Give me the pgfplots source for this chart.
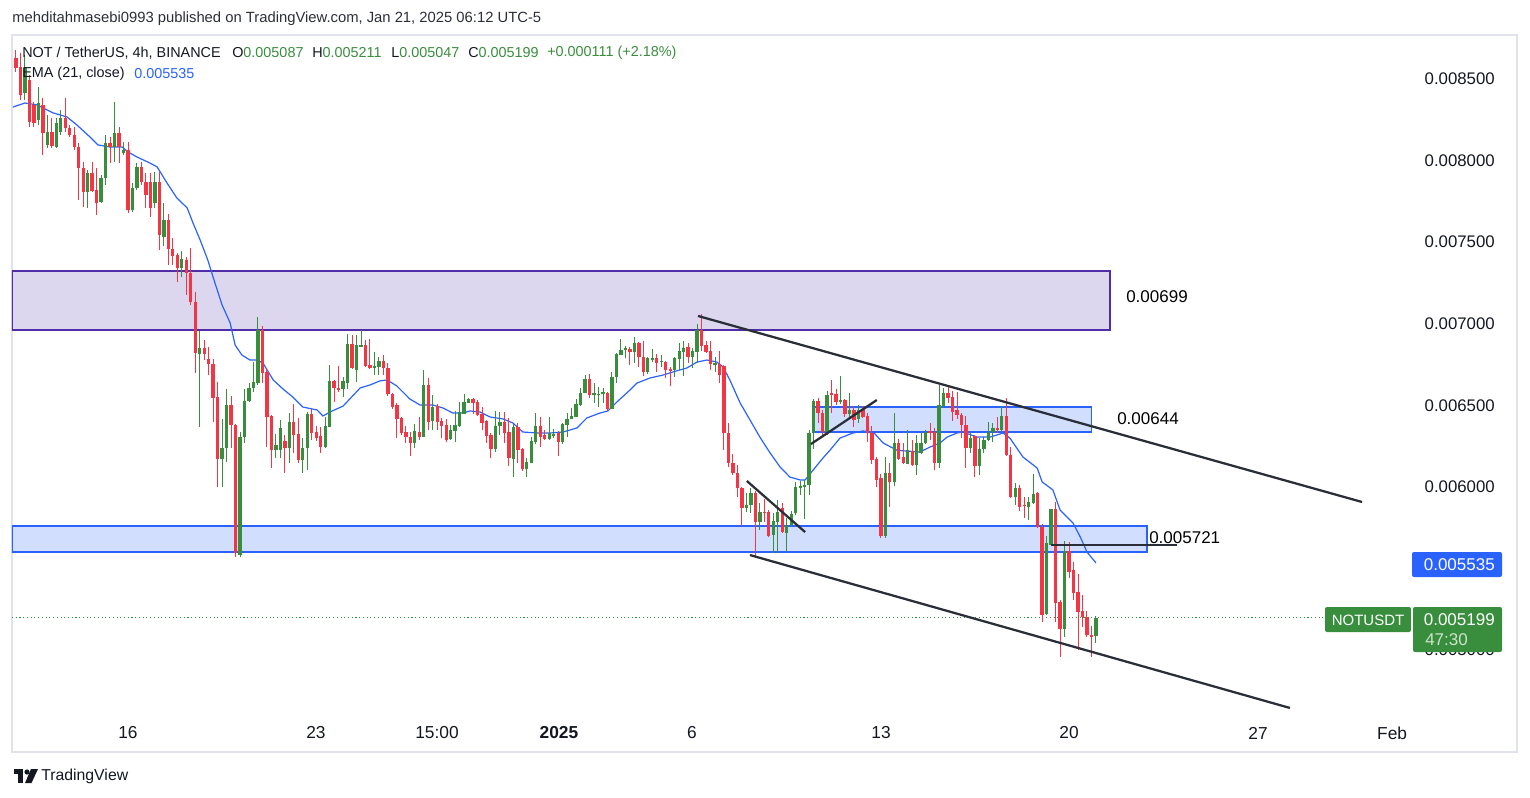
\documentclass[border=0pt]{standalone}
\usepackage{pgfplots}
\pgfplotsset{compat=1.18}
\usepackage{pgfplotstable}
\usepackage{fontspec}
\setmainfont{Liberation Sans}
\definecolor{upc}{HTML}{388E3C}
\definecolor{dnc}{HTML}{F23645}
\definecolor{emac}{HTML}{2962FF}
\definecolor{zonep}{RGB}{220,214,238}
\definecolor{zonepb}{HTML}{512DA8}
\definecolor{zoneb}{RGB}{209,222,254}
\definecolor{zonebb}{HTML}{2962FF}
\definecolor{trend}{HTML}{2A2E39}
\definecolor{framec}{HTML}{E0E3EB}
\definecolor{txt}{HTML}{131722}

% NOT/USDT 4h candles: index, open, high, low, close
\pgfplotstableread{
i o h l c
0 0.008629 0.008678 0.008543 0.008567
1 0.008573 0.008660 0.008371 0.008402
2 0.008415 0.008647 0.008371 0.008567
3 0.008494 0.008524 0.008206 0.008237
4 0.008340 0.008359 0.008206 0.008231
5 0.008249 0.008451 0.008218 0.008353
6 0.008340 0.008384 0.008034 0.008169
7 0.008095 0.008279 0.008077 0.008175
8 0.008175 0.008261 0.008077 0.008089
9 0.008083 0.008261 0.008077 0.008231
10 0.008175 0.008310 0.008156 0.008261
11 0.008261 0.008384 0.008175 0.008200
12 0.008200 0.008218 0.008144 0.008156
13 0.008156 0.008206 0.008065 0.008083
14 0.008083 0.008108 0.007759 0.007955
15 0.007955 0.007992 0.007716 0.007808
16 0.007808 0.007942 0.007710 0.007924
17 0.007924 0.007992 0.007808 0.007814
18 0.007820 0.007955 0.007666 0.007741
19 0.007747 0.007911 0.007741 0.007893
20 0.007893 0.008156 0.007850 0.008108
21 0.008108 0.008144 0.007986 0.008083
22 0.008083 0.008359 0.007992 0.008169
23 0.008169 0.008206 0.007986 0.008083
24 0.008047 0.008114 0.008034 0.008065
25 0.008065 0.008114 0.007679 0.007697
26 0.007697 0.007863 0.007685 0.007832
27 0.007832 0.007986 0.007820 0.007961
28 0.007961 0.007992 0.007850 0.007869
29 0.007869 0.007924 0.007710 0.007789
30 0.007869 0.007924 0.007654 0.007710
31 0.007741 0.007930 0.007710 0.007869
32 0.007869 0.007930 0.007452 0.007544
33 0.007532 0.007741 0.007476 0.007636
34 0.007636 0.007672 0.007360 0.007458
35 0.007458 0.007526 0.007360 0.007415
36 0.007421 0.007434 0.007256 0.007342
37 0.007342 0.007446 0.007287 0.007397
38 0.007391 0.007409 0.007176 0.007312
39 0.007312 0.007464 0.007115 0.007134
40 0.007134 0.007195 0.006699 0.006821
41 0.006814 0.006956 0.006367 0.006851
42 0.006851 0.006901 0.006778 0.006814
43 0.006784 0.006857 0.006686 0.006753
44 0.006753 0.006784 0.006398 0.006545
45 0.006551 0.006643 0.006000 0.006172
46 0.006172 0.006416 0.006000 0.006239
47 0.006239 0.006600 0.006153 0.006502
48 0.006502 0.006558 0.006239 0.006379
49 0.006379 0.006385 0.005571 0.005596
50 0.005583 0.006337 0.005571 0.006306
51 0.006306 0.006600 0.006270 0.006527
52 0.006527 0.006637 0.006521 0.006606
53 0.006606 0.006766 0.006582 0.006643
54 0.006637 0.007041 0.006624 0.006962
55 0.006962 0.006987 0.006637 0.006699
56 0.006705 0.006729 0.006245 0.006428
57 0.006434 0.006441 0.006116 0.006227
58 0.006227 0.006324 0.006177 0.006257
59 0.006227 0.006410 0.006177 0.006361
60 0.006282 0.006319 0.006086 0.006239
61 0.006239 0.006454 0.006147 0.006398
62 0.006398 0.006508 0.006209 0.006319
63 0.006325 0.006422 0.006147 0.006165
64 0.006165 0.006300 0.006086 0.006239
65 0.006239 0.006460 0.006104 0.006447
66 0.006447 0.006478 0.006288 0.006331
67 0.006337 0.006374 0.006282 0.006300
68 0.006313 0.006367 0.006209 0.006245
69 0.006245 0.006428 0.006239 0.006374
70 0.006367 0.006748 0.006367 0.006649
71 0.006649 0.006655 0.006521 0.006606
72 0.006606 0.006741 0.006582 0.006600
73 0.006600 0.006674 0.006551 0.006649
74 0.006637 0.006938 0.006600 0.006876
75 0.006876 0.006932 0.006723 0.006729
76 0.006717 0.006932 0.006643 0.006870
77 0.006864 0.006962 0.006857 0.006870
78 0.006870 0.006901 0.006735 0.006741
79 0.006747 0.006907 0.006723 0.006729
80 0.006735 0.006827 0.006686 0.006741
81 0.006735 0.006796 0.006686 0.006772
82 0.006772 0.006808 0.006686 0.006729
83 0.006729 0.006760 0.006558 0.006569
84 0.006569 0.006576 0.006478 0.006490
85 0.006502 0.006515 0.006300 0.006416
86 0.006422 0.006428 0.006319 0.006331
87 0.006337 0.006374 0.006270 0.006306
88 0.006306 0.006337 0.006190 0.006270
89 0.006270 0.006386 0.006239 0.006343
90 0.006337 0.006428 0.006288 0.006306
91 0.006306 0.006717 0.006306 0.006624
92 0.006624 0.006668 0.006349 0.006398
93 0.006404 0.006564 0.006349 0.006490
94 0.006496 0.006508 0.006349 0.006398
95 0.006404 0.006422 0.006300 0.006374
96 0.006379 0.006416 0.006276 0.006288
97 0.006294 0.006379 0.006288 0.006349
98 0.006343 0.006466 0.006276 0.006379
99 0.006374 0.006521 0.006367 0.006459
100 0.006447 0.006570 0.006447 0.006521
101 0.006515 0.006545 0.006515 0.006539
102 0.006539 0.006545 0.006447 0.006515
103 0.006521 0.006533 0.006435 0.006441
104 0.006447 0.006490 0.006349 0.006392
105 0.006404 0.006410 0.006270 0.006313
106 0.006319 0.006331 0.006177 0.006233
107 0.006233 0.006466 0.006215 0.006374
108 0.006374 0.006460 0.006319 0.006398
109 0.006398 0.006460 0.006270 0.006331
110 0.006337 0.006422 0.006128 0.006177
111 0.006172 0.006386 0.006061 0.006367
112 0.006367 0.006392 0.006147 0.006227
113 0.006233 0.006239 0.006098 0.006110
114 0.006110 0.006177 0.006061 0.006153
115 0.006147 0.006306 0.006147 0.006282
116 0.006276 0.006454 0.006264 0.006374
117 0.006374 0.006428 0.006245 0.006306
118 0.006319 0.006349 0.006288 0.006294
119 0.006294 0.006428 0.006288 0.006331
120 0.006313 0.006355 0.006300 0.006325
121 0.006331 0.006343 0.006190 0.006276
122 0.006276 0.006392 0.006264 0.006386
123 0.006379 0.006454 0.006306 0.006416
124 0.006416 0.006484 0.006416 0.006435
125 0.006428 0.006539 0.006428 0.006508
126 0.006502 0.006606 0.006496 0.006576
127 0.006576 0.006686 0.006576 0.006662
128 0.006662 0.006692 0.006545 0.006564
129 0.006570 0.006637 0.006515 0.006576
130 0.006564 0.006613 0.006490 0.006570
131 0.006570 0.006606 0.006515 0.006582
132 0.006576 0.006582 0.006466 0.006478
133 0.006478 0.006705 0.006478 0.006674
134 0.006674 0.006821 0.006637 0.006814
135 0.006808 0.006909 0.006808 0.006839
136 0.006839 0.006864 0.006790 0.006851
137 0.006845 0.006857 0.006747 0.006827
138 0.006827 0.006919 0.006760 0.006882
139 0.006882 0.006888 0.006735 0.006796
140 0.006796 0.006894 0.006680 0.006705
141 0.006705 0.006796 0.006692 0.006790
142 0.006784 0.006845 0.006766 0.006790
143 0.006790 0.006815 0.006705 0.006760
144 0.006766 0.006808 0.006735 0.006772
145 0.006766 0.006772 0.006668 0.006717
146 0.006723 0.006735 0.006619 0.006711
147 0.006717 0.006796 0.006674 0.006790
148 0.006784 0.006882 0.006717 0.006833
149 0.006827 0.006894 0.006680 0.006851
150 0.006857 0.006882 0.006760 0.006796
151 0.006796 0.006851 0.006729 0.006833
152 0.006827 0.006999 0.006760 0.006962
153 0.006962 0.007060 0.006833 0.006864
154 0.006870 0.006894 0.006821 0.006827
155 0.006833 0.006894 0.006717 0.006753
156 0.006753 0.006796 0.006705 0.006760
157 0.006753 0.006833 0.006637 0.006686
158 0.006741 0.006747 0.006227 0.006331
159 0.006331 0.006392 0.006122 0.006147
160 0.006147 0.006202 0.006074 0.006086
161 0.006086 0.006135 0.005938 0.005994
162 0.005994 0.006000 0.005761 0.005871
163 0.005871 0.005963 0.005847 0.005890
164 0.005890 0.005994 0.005841 0.005963
165 0.005963 0.005975 0.005565 0.005786
166 0.005786 0.005902 0.005737 0.005847
167 0.005847 0.005926 0.005786 0.005841
168 0.005847 0.005859 0.005694 0.005700
169 0.005706 0.005841 0.005596 0.005792
170 0.005786 0.005920 0.005596 0.005847
171 0.005871 0.005902 0.005718 0.005724
172 0.005718 0.005810 0.005602 0.005767
173 0.005767 0.005853 0.005755 0.005835
174 0.005841 0.006031 0.005829 0.006000
175 0.006000 0.006037 0.005951 0.006006
176 0.006000 0.006043 0.005804 0.006012
177 0.006012 0.006349 0.005951 0.006331
178 0.006331 0.006539 0.006233 0.006527
179 0.006527 0.006545 0.006392 0.006453
180 0.006453 0.006472 0.006319 0.006337
181 0.006337 0.006588 0.006319 0.006564
182 0.006576 0.006655 0.006453 0.006564
183 0.006570 0.006600 0.006502 0.006521
184 0.006527 0.006680 0.006508 0.006533
185 0.006533 0.006539 0.006428 0.006447
186 0.006447 0.006576 0.006428 0.006472
187 0.006472 0.006496 0.006367 0.006410
188 0.006416 0.006502 0.006392 0.006472
189 0.006478 0.006496 0.006422 0.006428
190 0.006435 0.006453 0.006276 0.006331
191 0.006331 0.006374 0.006141 0.006165
192 0.006172 0.006184 0.006000 0.006043
193 0.006055 0.006080 0.005688 0.005700
194 0.005700 0.006184 0.005688 0.006086
195 0.006086 0.006147 0.005877 0.006031
196 0.006031 0.006453 0.006006 0.006270
197 0.006270 0.006294 0.006165 0.006172
198 0.006184 0.006270 0.006141 0.006147
199 0.006141 0.006349 0.006141 0.006227
200 0.006221 0.006288 0.006128 0.006135
201 0.006135 0.006319 0.006074 0.006270
202 0.006208 0.006331 0.006202 0.006270
203 0.006270 0.006349 0.006264 0.006337
204 0.006343 0.006392 0.006288 0.006337
205 0.006337 0.006361 0.006104 0.006147
206 0.006147 0.006624 0.006116 0.006502
207 0.006496 0.006606 0.006484 0.006576
208 0.006576 0.006613 0.006515 0.006545
209 0.006551 0.006588 0.006404 0.006460
210 0.006472 0.006582 0.006416 0.006441
211 0.006441 0.006453 0.006300 0.006379
212 0.006379 0.006435 0.006116 0.006239
213 0.006239 0.006331 0.006209 0.006300
214 0.006313 0.006319 0.006061 0.006128
215 0.006128 0.006300 0.006074 0.006233
216 0.006233 0.006306 0.006209 0.006288
217 0.006288 0.006398 0.006282 0.006337
218 0.006337 0.006392 0.006276 0.006361
219 0.006361 0.006428 0.006331 0.006355
220 0.006349 0.006496 0.006337 0.006435
221 0.006435 0.006545 0.006190 0.006196
222 0.006196 0.006245 0.005933 0.005939
223 0.005939 0.006024 0.005890 0.005994
224 0.005994 0.006012 0.005853 0.005877
225 0.005890 0.005939 0.005810 0.005884
226 0.005877 0.005939 0.005798 0.005908
227 0.005902 0.006080 0.005896 0.005957
228 0.005963 0.005969 0.005749 0.005755
229 0.005755 0.005773 0.005173 0.005216
230 0.005222 0.005700 0.005216 0.005657
231 0.005645 0.005865 0.005639 0.005865
232 0.005865 0.005908 0.005173 0.005289
233 0.005295 0.005308 0.004958 0.005130
234 0.005130 0.005669 0.005081 0.005608
235 0.005608 0.005663 0.005443 0.005479
236 0.005492 0.005541 0.005308 0.005350
237 0.005357 0.005467 0.005001 0.005234
238 0.005240 0.005338 0.005142 0.005203
239 0.005203 0.005240 0.005081 0.005093
240 0.005093 0.005148 0.004958 0.005087
241 0.005087 0.005211 0.005047 0.005199
}\candles

\begin{document}
\begin{tikzpicture}
\path[use as bounding box] (0,0) rectangle (1147.5pt,-598.5pt);
\begin{axis}[
  at={(9pt,-26.25pt)}, anchor=north west,
  scale only axis, width=1128.75pt, height=537.75pt,
  xmin=-0.89, xmax=334.97, ymin=0.0043762, ymax=0.0087696,
  axis line style={draw=framec, line width=1.5pt},
  xtick={24.99,66.95,93.95,121.18,150.86,193.04,235.0,277.2,307.1},
  xticklabels={16,23,15:00,\textbf{2025},6,13,20,27,Feb},
  % 0.005500 sits under the EMA tag, as in the reference, so it is left out
  ytick={0.005,0.006,0.0065,0.007,0.0075,0.008,0.0085},
  yticklabels={0.005000,0.006000,0.006500,0.007000,0.007500,0.008000,0.008500},
  scaled y ticks=false,
  yticklabel pos=right,
  major tick length=0pt,
  ticklabel style={text=txt, inner sep=0pt},
  yticklabel style={anchor=east, xshift=-16.5pt, font=\fontsize{12.6}{14}\selectfont},
  xticklabel style={anchor=center, yshift=14.25pt, font=\fontsize{13}{15}\selectfont},
]
% zones
\addplot[fill=zonep, draw=zonepb, line width=1.1pt] coordinates {(-0.89,0.007323) (244.1,0.007323) (244.1,0.006962) (-0.89,0.006962)} -- cycle;
\addplot[fill=zoneb, draw=zonebb, line width=0.9pt] coordinates {(-0.89,0.005761) (252.4,0.005761) (252.4,0.005602) (-0.89,0.005602)} -- cycle;
\addplot[fill=zoneb, draw=zonebb, line width=0.9pt] coordinates {(177.9,0.006490) (240.1,0.006490) (240.1,0.006337) (177.9,0.006337)} -- cycle;

% last price line
\addplot[upc, dotted, line width=0.8pt] coordinates {(-0.89,0.005199) (292.1,0.005199)};

% EMA 21
\addplot[emac, line width=0.9pt] coordinates {
(-0.67,0.008328) (2.0,0.008353) (4.7,0.008341) (8.3,0.008292) (11.4,0.008267) (13.6,0.008218)
(16.5,0.008145) (18.3,0.008096) (21.0,0.008083) (23.7,0.008083) (25.0,0.008053) (27.0,0.008022)
(29.9,0.007985) (31.5,0.007961) (33.7,0.007863) (35.9,0.007771) (38.2,0.007710) (39.5,0.007618)
(41.1,0.007513) (42.8,0.007391) (44.4,0.007250) (46.0,0.007115) (47.8,0.007005) (48.9,0.006870)
(50.4,0.006809) (52.2,0.006778) (53.8,0.006778) (55.1,0.006760) (57.4,0.006656) (59.6,0.006600)
(61.8,0.006551) (64.0,0.006490) (67.2,0.006472) (68.5,0.006435) (70.1,0.006460) (73.0,0.006496)
(76.8,0.006607) (79.0,0.006625) (81.2,0.006650) (82.8,0.006656) (85.0,0.006619) (87.9,0.006539)
(90.2,0.006502) (93.1,0.006502) (95.3,0.006484) (97.5,0.006453) (99.8,0.006453) (101.3,0.006466)
(103.5,0.006460) (105.8,0.006429) (108.7,0.006417) (110.9,0.006392) (113.1,0.006337) (116.3,0.006331)
(119.2,0.006331) (122.1,0.006337) (125.2,0.006362) (127.4,0.006423) (130.3,0.006453) (132.1,0.006466)
(134.1,0.006521) (137.0,0.006594) (138.6,0.006637) (141.5,0.006668) (144.4,0.006686) (146.6,0.006705)
(149.7,0.006729) (152.0,0.006766) (154.2,0.006778) (156.4,0.006766) (157.8,0.006735) (159.3,0.006656)
(161.6,0.006515) (163.8,0.006411) (166.0,0.006306) (168.3,0.006208) (170.5,0.006123) (172.7,0.006061)
(175.0,0.006043) (176.1,0.006043) (177.9,0.006104) (180.1,0.006178) (181.7,0.006227) (183.9,0.006300)
(186.8,0.006331) (189.0,0.006343) (191.3,0.006337) (193.5,0.006270) (196.6,0.006225) (201.7,0.006214)
(204.0,0.006245) (206.2,0.006270) (207.8,0.006306) (210.0,0.006331) (211.3,0.006337) (214.5,0.006306)
(217.4,0.006306) (220.3,0.006331) (221.8,0.006300) (224.7,0.006184) (227.9,0.006116) (229.0,0.006031)
(231.4,0.005982) (233.0,0.005859) (235.9,0.005779) (237.5,0.005694) (239.0,0.005602) (241.0,0.005535)
};

% wicks
\addplot[draw=none, mark=none, restrict expr to domain={\thisrow{c}-\thisrow{o}}{0:1},
  error bars/.cd, y dir=both, y explicit, error mark=none,
  error bar style={draw=upc, line width=0.75pt}]
  table[x=i, y expr={(\thisrow{h}+\thisrow{l})/2}, y error expr={(\thisrow{h}-\thisrow{l})/2}] {\candles};
\addplot[draw=none, mark=none, restrict expr to domain={\thisrow{c}-\thisrow{o}}{-1:-0.0000001},
  error bars/.cd, y dir=both, y explicit, error mark=none,
  error bar style={draw=dnc, line width=0.75pt}]
  table[x=i, y expr={(\thisrow{h}+\thisrow{l})/2}, y error expr={(\thisrow{h}-\thisrow{l})/2}] {\candles};
% bodies
\addplot[draw=none, mark=none, restrict expr to domain={\thisrow{c}-\thisrow{o}}{0:1},
  error bars/.cd, y dir=both, y explicit, error mark=none,
  error bar style={draw=upc, line width=2.5pt}]
  table[x=i, y expr={(\thisrow{o}+\thisrow{c})/2}, y error expr={max(abs(\thisrow{c}-\thisrow{o})/2,0.0000025)}] {\candles};
\addplot[draw=none, mark=none, restrict expr to domain={\thisrow{c}-\thisrow{o}}{-1:-0.0000001},
  error bars/.cd, y dir=both, y explicit, error mark=none,
  error bar style={draw=dnc, line width=2.5pt}]
  table[x=i, y expr={(\thisrow{o}+\thisrow{c})/2}, y error expr={max(abs(\thisrow{c}-\thisrow{o})/2,0.0000025)}] {\candles};

% drawn trend lines
\addplot[trend, line width=1.7pt] coordinates {(152.2,0.007048) (300.4,0.005908)};
\addplot[trend, line width=1.7pt] coordinates {(163.8,0.005583) (284.3,0.004646)};
\addplot[trend, line width=1.7pt] coordinates {(163.1,0.006037) (176.1,0.005724)};
\addplot[trend, line width=1.7pt] coordinates {(177.4,0.006263) (192.1,0.006533)};
\addplot[trend, line width=1.7pt] coordinates {(231.0,0.005644) (259.1,0.005644)};
\end{axis}

\begin{scope}[x=0.75pt, y=-0.75pt]
% header
\node[anchor=west, inner sep=0pt, text=txt!90, font=\fontsize{11.1}{13}\selectfont] at (12,19)
  {mehditahmasebi0993 published on TradingView.com, Jan 21, 2025 06:12 UTC-5};
\begin{scope}[every node/.style={anchor=west, inner sep=0pt, text=txt, font=\fontsize{10.8}{13}\selectfont}]
\node at (22,53) {NOT / TetherUS, 4h, BINANCE};
\node at (232,53) {O\textcolor{upc}{0.005087}};
\node at (312,53) {H\textcolor{upc}{0.005211}};
\node at (391,53) {L\textcolor{upc}{0.005047}};
\node at (468,53) {C\textcolor{upc}{0.005199}};
\node at (547,53) {\textcolor{upc}{+0.000111 (+2.18\%)}};
\node at (22,74) {EMA (21, close)};
\node at (134,74) {\textcolor{emac}{0.005535}};
\end{scope}
% level labels
\begin{scope}[every node/.style={anchor=west, inner sep=0pt, text=black, font=\fontsize{12.75}{14}\selectfont}]
\node at (1126,297) {0.00699};
\node at (1117,419) {0.00644};
\node at (1149,538) {0.005721};
\end{scope}
% price scale tags
\fill[emac, rounded corners=1.5pt] (1412,552) rectangle (1502,577);
\node[anchor=east, inner sep=0pt, text=white, font=\fontsize{12.75}{14}\selectfont] at (1495,565) {0.005535};
\fill[upc, rounded corners=1.5pt] (1325,607) rectangle (1411,632);
\node[inner sep=0pt, text=white, font=\fontsize{11.25}{13}\selectfont] at (1368,620) {NOTUSDT};
\fill[upc, rounded corners=1.5pt] (1413,607) rectangle (1502,652);
\node[anchor=east, inner sep=0pt, text=white, font=\fontsize{12.75}{14}\selectfont] at (1495,620) {0.005199};
\node[anchor=west, inner sep=0pt, text=white!75!upc, font=\fontsize{12.75}{14}\selectfont] at (1425,640) {47:30};
% footer logo
\fill[txt] (14,769) rectangle (23,773.5);
\fill[txt] (18,769) rectangle (23,783);
\fill[txt] (27,772) circle (2.6);
\fill[txt] (31,769) -- (38,769) -- (31.5,783) -- (25,783) -- cycle;
\node[anchor=west, inner sep=0pt, text=txt, font=\fontsize{11.85}{14}\selectfont] at (41,776) {TradingView};
\end{scope}
\end{tikzpicture}
\end{document}
